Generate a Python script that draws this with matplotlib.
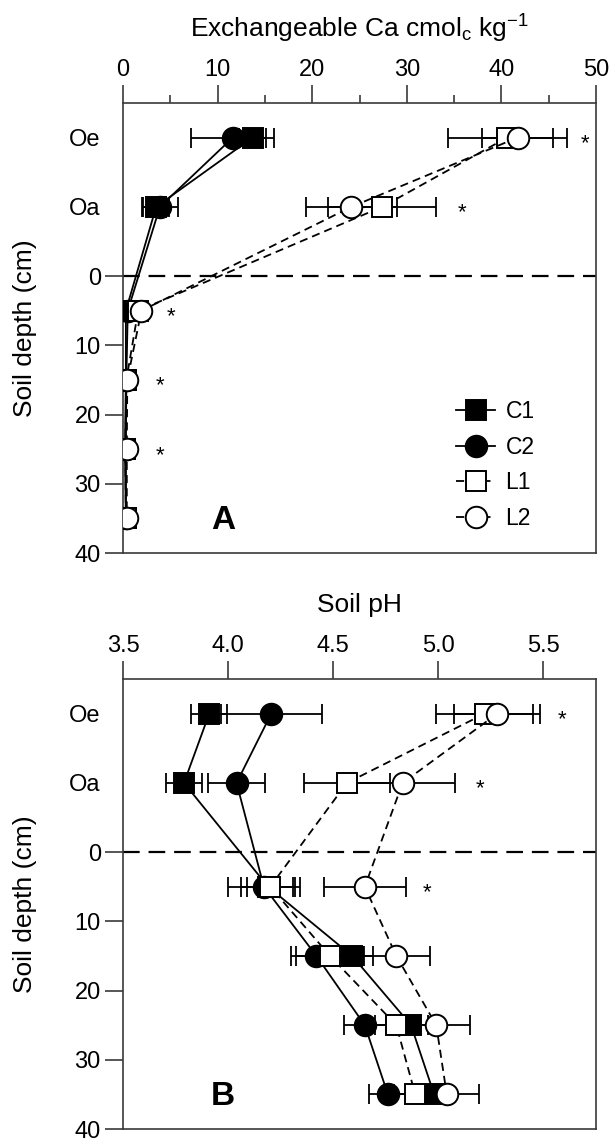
import numpy as np
import matplotlib.pyplot as plt

plt.rcParams['font.family'] = ['Liberation Sans', 'DejaVu Sans']
plt.rcParams['mathtext.default'] = 'regular'

## DATA
depth = [-20, -10, 5, 15, 25, 35]
ytick_pos = [-20, -10, 0, 10, 20, 30, 40]
ytick_lab = ['Oe', 'Oa', '0', '10', '20', '30', '40']
series = ['C1', 'C2', 'L1', 'L2']

# Exchangeable Ca (cmolc/kg)
ca_c1 = [13.7, 3.5, 0.3, 0.3, 0.2, 0.3]
ca_c1_err = [1.45, 1.4, 0.2, 0.15, 0.1, 0.1]
ca_c2 = [11.6, 3.9, 0.5, 0.35, 0.3, 0.3]
ca_c2_err = [4.4, 1.9, 0.2, 0.15, 0.1, 0.1]
ca_l1 = [40.6, 27.4, 1.6, 0.35, 0.25, 0.3]
ca_l1_err = [6.3, 5.7, 0.4, 0.2, 0.1, 0.1]
ca_l2 = [41.7, 24.15, 1.95, 0.45, 0.4, 0.4]
ca_l2_err = [3.8, 4.85, 0.3, 0.2, 0.1, 0.1]

# Soil pH
ph_c1 = [3.91, 3.79, 4.19, 4.59, 4.87, 4.98]
ph_c1_err = [0.085, 0.085, 0.13, 0.10, 0.08, 0.08]
ph_c2 = [4.205, 4.04, 4.17, 4.42, 4.65, 4.76]
ph_c2_err = [0.24, 0.135, 0.17, 0.12, 0.10, 0.09]
ph_l1 = [5.22, 4.565, 4.20, 4.485, 4.80, 4.89]
ph_l1_err = [0.23, 0.205, 0.11, 0.16, 0.10, 0.10]
ph_l2 = [5.28, 4.83, 4.65, 4.80, 4.99, 5.04]
ph_l2_err = [0.205, 0.25, 0.195, 0.16, 0.16, 0.155]

# significance marks (*)
ca_star_x = [48.8, 35.8, 5.1, 3.9, 3.9]
ca_star_d = [-20, -10, 5, 15, 25]
ph_star_x = [5.59, 5.20, 4.945]
ph_star_d = [-20, -10, 5]

## STYLE
dark = '#3a3a3a'
dash = ( 0, ( 4.5, 2.8 ) )
styles = {
    'C1': dict( marker='s', mfc='black', ls='-' ),
    'C2': dict( marker='o', mfc='black', ls='-' ),
    'L1': dict( marker='s', mfc='white', ls=dash ),
    'L2': dict( marker='o', mfc='white', ls=dash ),
}
msize = { 's': 14.5, 'o': 15.5 }


def draw_panel( ax, vals, errs, xlim, xticks, xlabel, letter ):
    for k, name in enumerate( series ):
        ax.errorbar( vals[ k ], depth, xerr=errs[ k ], fmt='none', ecolor='black',
                     elinewidth=1.3, capsize=7, capthick=1.3, zorder=2 )
    for k, name in enumerate( series ):
        st = styles[ name ]
        ax.plot( vals[ k ], depth, color='black', lw=1.3, ls=st[ 'ls' ], marker=st[ 'marker' ],
                 ms=msize[ st[ 'marker' ] ], mfc=st[ 'mfc' ], mec='black', mew=1.4,
                 label=name, zorder=3 + k )

    ax.axhline( 0, color='black', lw=1.6, ls=( 0, ( 7.5, 4 ) ), zorder=1 )
    ax.set_xlim( xlim )
    ax.set_ylim( 40, -25 )
    ax.set_xticks( xticks )
    ax.set_yticks( ytick_pos )
    ax.set_yticklabels( ytick_lab )
    for t in ax.yaxis.get_major_ticks()[ :2 ]:
        t.tick1line.set_visible( False )

    ax.xaxis.tick_top()
    ax.xaxis.set_label_position( 'top' )
    ax.tick_params( axis='both', direction='out', length=13, width=1.2, color=dark,
                    labelsize=17, pad=3 )
    ax.tick_params( axis='x', which='minor', direction='out', length=6, width=1.2, color=dark )
    for s in ax.spines.values():
        s.set_linewidth( 1.2 )
        s.set_color( dark )
    ax.set_xlabel( xlabel, fontsize=19 )
    ax.xaxis.label.set_va( 'center' )
    ax.xaxis.set_label_coords( 0.5, 1.165 )
    ax.set_ylabel( 'Soil depth (cm)', fontsize=19 )
    ax.yaxis.label.set_va( 'center' )
    ax.yaxis.set_label_coords( -0.207, 0.5 )
    ax.text( 0.212, 0.072, letter, transform=ax.transAxes, fontsize=24, fontweight='bold',
             ha='center', va='center' )


fig = plt.figure( figsize=( 6.13, 11.44 ), dpi=100 )
axA = fig.add_axes( [ 0.2007, 0.5166, 0.7716, 0.3934 ] )
axB = fig.add_axes( [ 0.2007, 0.0131, 0.7716, 0.3933 ] )

draw_panel( axA, [ ca_c1, ca_c2, ca_l1, ca_l2 ], [ ca_c1_err, ca_c2_err, ca_l1_err, ca_l2_err ],
            ( 0, 50 ), [ 0, 10, 20, 30, 40, 50 ], 'Exchangeable Ca cmol$_c$ kg$^{-1}$', 'A' )
axA.set_xticks( np.arange( 5, 50, 10 ), minor=True )
for x, d in zip( ca_star_x, ca_star_d ):
    axA.text( x, d + 0.9, '*', fontsize=16, ha='center', va='center' )

draw_panel( axB, [ ph_c1, ph_c2, ph_l1, ph_l2 ], [ ph_c1_err, ph_c2_err, ph_l1_err, ph_l2_err ],
            ( 3.5, 5.75 ), [ 3.5, 4.0, 4.5, 5.0, 5.5 ], 'Soil pH', 'B' )
axB.set_xticklabels( [ '3.5', '4.0', '4.5', '5.0', '5.5' ] )
for x, d in zip( ph_star_x, ph_star_d ):
    axB.text( x, d + 0.9, '*', fontsize=16, ha='center', va='center' )

axA.legend( loc='upper left', bbox_to_anchor=( 0.68, 0.365 ), frameon=False, fontsize=16.5,
            handlelength=1.7, handletextpad=0.45, labelspacing=0.55, borderpad=0 )

fig.savefig( 'out.png', dpi=100 )
